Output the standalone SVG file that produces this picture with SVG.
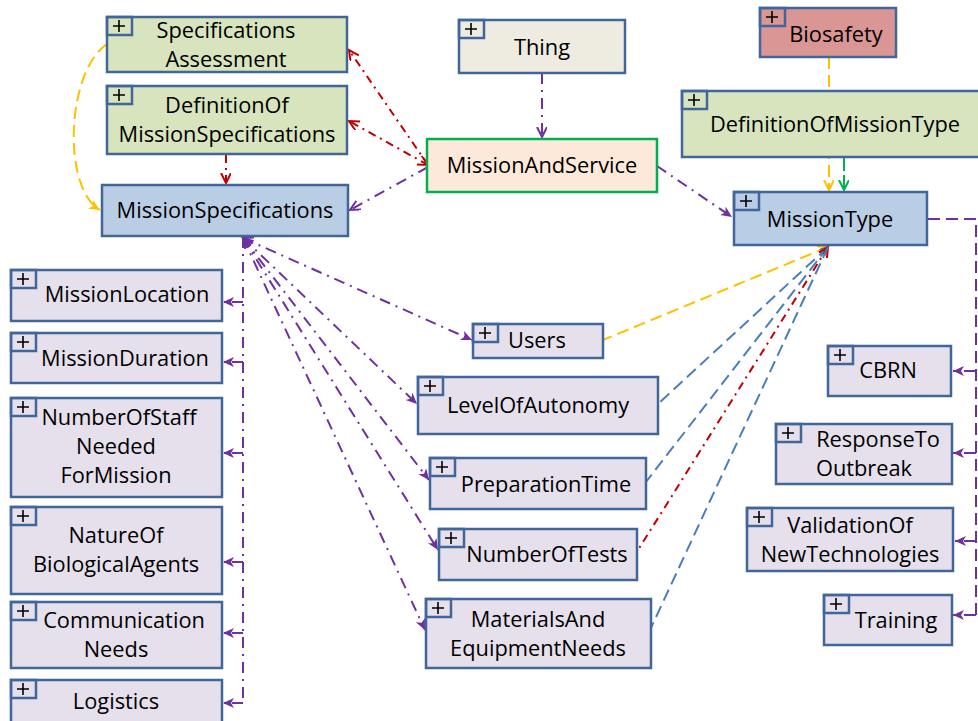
<svg xmlns="http://www.w3.org/2000/svg" width="978" height="721" viewBox="0 0 978 721">
<style>
.n{stroke:#41679a;stroke-width:2.5}
.lav{fill:#e5e0ec}.blu{fill:#b9cde5}.grn{fill:#d7e4bd}.beige{fill:#eeece1}.red{fill:#d99694}
.mas{fill:#fde9d9;stroke:#00b050;stroke-width:2.5}
.pb{fill:none;stroke:#41679a;stroke-width:2.5}
.pl{stroke:#000;stroke-width:1.6}
text{font-family:"Open Sans","Liberation Sans",sans-serif;font-size:21.8px;fill:#000;text-anchor:middle}
.c{fill:none;stroke-width:2}
.pdd{stroke:#7030a0;stroke-dasharray:11,6,2,6}
.pd{stroke:#7030a0;stroke-dasharray:12,6}
.rdd{stroke:#c00000;stroke-dasharray:8,5,2,5}
.od{stroke:#ffc000;stroke-dasharray:12,6}
.bd{stroke:#4a7ebb;stroke-dasharray:12,6}
.gd{stroke:#00b050;stroke-dasharray:14,4}
</style>
<defs>
<marker id="oP" markerUnits="userSpaceOnUse" markerWidth="14" markerHeight="14" refX="10" refY="5" orient="auto-start-reverse"><path d="M0,0 L10,5 L0,10" fill="none" stroke="#7030a0" stroke-width="2"/></marker>
<marker id="fP" markerUnits="userSpaceOnUse" markerWidth="14" markerHeight="14" refX="11" refY="5" orient="auto-start-reverse"><path d="M0,0 L11,5 L0,10 L3,5 z" fill="#7030a0"/></marker>
<marker id="oR" markerUnits="userSpaceOnUse" markerWidth="14" markerHeight="14" refX="10" refY="5" orient="auto-start-reverse"><path d="M0,0 L10,5 L0,10" fill="none" stroke="#c00000" stroke-width="2"/></marker>
<marker id="oO" markerUnits="userSpaceOnUse" markerWidth="14" markerHeight="14" refX="10" refY="5" orient="auto-start-reverse"><path d="M0,0 L10,5 L0,10" fill="none" stroke="#ffc000" stroke-width="2"/></marker>
<marker id="fO" markerUnits="userSpaceOnUse" markerWidth="14" markerHeight="14" refX="11" refY="5" orient="auto-start-reverse"><path d="M0,0 L11,5 L0,10 L3,5 z" fill="#ffc000"/></marker>
<marker id="oG" markerUnits="userSpaceOnUse" markerWidth="14" markerHeight="14" refX="10" refY="5" orient="auto-start-reverse"><path d="M0,0 L10,5 L0,10" fill="none" stroke="#00b050" stroke-width="2"/></marker>
<marker id="oB" markerUnits="userSpaceOnUse" markerWidth="14" markerHeight="14" refX="8" refY="4" orient="auto-start-reverse"><path d="M0,0 L8,4 L0,8" fill="none" stroke="#4a7ebb" stroke-width="1.6"/></marker>
</defs>
<g id="connectors">
<path class="c pdd" d="M542,73 L542,137" marker-end="url(#oP)"/>
<path class="c rdd" d="M428,165 L349,50" marker-end="url(#oR)"/>
<path class="c rdd" d="M428,165 L349,121" marker-end="url(#oR)" marker-start="url(#oR)"/>
<path class="c pdd" d="M428,167 L350,210" marker-end="url(#oP)"/>
<path class="c rdd" d="M226,155 L226,183" marker-end="url(#oR)"/>
<path class="c od" d="M107,44 C66,72 62,188 100,210" marker-end="url(#fO)"/>
<path class="c pdd" d="M657,166 L732,217" marker-end="url(#fP)"/>
<path class="c od" d="M829,57 L829,190" marker-end="url(#oO)"/>
<path class="c gd" d="M844,157 L844,190" marker-end="url(#oG)"/>
<path class="c pd" d="M928,219 L976,219 L976,615"/>
<path class="c pd" d="M976,371 L953,371" marker-end="url(#fP)"/>
<path class="c pd" d="M976,453 L953,453" marker-end="url(#fP)"/>
<path class="c pd" d="M976,541 L955,541" marker-end="url(#fP)"/>
<path class="c pd" d="M976,615 L953,615" marker-end="url(#fP)"/>
<path class="c pdd" d="M243,237 L243,703"/>
<path class="c pdd" d="M243,302 L223,302" marker-end="url(#fP)"/>
<path class="c pdd" d="M243,362 L223,362" marker-end="url(#fP)"/>
<path class="c pdd" d="M243,453 L223,453" marker-end="url(#fP)"/>
<path class="c pdd" d="M243,562 L223,562" marker-end="url(#fP)"/>
<path class="c pdd" d="M243,633 L223,633" marker-end="url(#fP)"/>
<path class="c pdd" d="M243,703 L223,703" marker-end="url(#fP)"/>
<path class="c pdd" d="M243,238 L472,340" marker-end="url(#fP)" marker-start="url(#oP)"/>
<path class="c pdd" d="M243,238 L417,404" marker-end="url(#fP)" marker-start="url(#oP)"/>
<path class="c pdd" d="M243,238 L429,480" marker-end="url(#fP)" marker-start="url(#oP)"/>
<path class="c pdd" d="M243,238 L438,550" marker-end="url(#fP)" marker-start="url(#oP)"/>
<path class="c pdd" d="M243,238 L425,630" marker-end="url(#fP)"/>
<path class="c od" d="M828,247 L603,340" marker-start="url(#oO)"/>
<path class="c bd" d="M828,247 L659,403" marker-start="url(#oB)"/>
<path class="c bd" d="M828,247 L646,482"/>
<path class="c rdd" d="M828,247 L638,550" marker-start="url(#oR)"/>
<path class="c bd" d="M828,247 L650,630"/>
</g>
<g id="SpecificationsAssessment"><rect class="n grn" x="107" y="17" width="240" height="55"/><rect class="pb" x="107" y="17" width="25" height="18"/><path class="pl" d="M113,26 H125 M119,20 V32"/><text x="226" y="38">Specifications</text><text x="226" y="67">Assessment</text></g>
<g id="DefinitionOfMissionSpecifications"><rect class="n grn" x="107" y="86" width="240" height="68"/><rect class="pb" x="107" y="86" width="25" height="18"/><path class="pl" d="M113,95 H125 M119,89 V101"/><text x="227" y="113">DefinitionOf</text><text x="227" y="142">MissionSpecifications</text></g>
<g id="MissionSpecifications"><rect class="n blu" x="102" y="185" width="246" height="51"/><text x="225" y="218">MissionSpecifications</text></g>
<g id="Thing"><rect class="n beige" x="459" y="20" width="166" height="53"/><rect class="pb" x="459" y="20" width="25" height="18"/><path class="pl" d="M465,29 H477 M471,23 V35"/><text x="542" y="55">Thing</text></g>
<g id="MissionAndService"><rect class="mas" x="427" y="139" width="230" height="53"/><text x="542" y="173">MissionAndService</text></g>
<g id="Biosafety"><rect class="n red" x="760" y="8" width="136" height="49"/><rect class="pb" x="760" y="8" width="25" height="18"/><path class="pl" d="M766,17 H778 M772,11 V23"/><text x="836" y="42">Biosafety</text></g>
<g id="DefinitionOfMissionType"><rect class="n grn" x="682" y="91" width="300" height="66"/><rect class="pb" x="682" y="91" width="25" height="18"/><path class="pl" d="M688,100 H700 M694,94 V106"/><text x="835" y="132">DefinitionOfMissionType</text></g>
<g id="MissionType"><rect class="n blu" x="734" y="192" width="193" height="53"/><rect class="pb" x="734" y="192" width="25" height="18"/><path class="pl" d="M740,201 H752 M746,195 V207"/><text x="830" y="227">MissionType</text></g>
<g id="MissionLocation"><rect class="n lav" x="11" y="270" width="211" height="51"/><rect class="pb" x="11" y="270" width="25" height="18"/><path class="pl" d="M17,279 H29 M23,273 V285"/><text x="127" y="302">MissionLocation</text></g>
<g id="MissionDuration"><rect class="n lav" x="11" y="333" width="211" height="50"/><rect class="pb" x="11" y="333" width="25" height="18"/><path class="pl" d="M17,342 H29 M23,336 V348"/><text x="125" y="366">MissionDuration</text></g>
<g id="NumberOfStaffNeededForMission"><rect class="n lav" x="11" y="398" width="211" height="99"/><rect class="pb" x="11" y="398" width="25" height="18"/><path class="pl" d="M17,407 H29 M23,401 V413"/><text x="119" y="425">NumberOfStaff</text><text x="116" y="454">Needed</text><text x="116" y="483">ForMission</text></g>
<g id="NatureOfBiologicalAgents"><rect class="n lav" x="11" y="507" width="211" height="87"/><rect class="pb" x="11" y="507" width="25" height="18"/><path class="pl" d="M17,516 H29 M23,510 V522"/><text x="116" y="543">NatureOf</text><text x="116" y="572">BiologicalAgents</text></g>
<g id="CommunicationNeeds"><rect class="n lav" x="11" y="602" width="211" height="66"/><rect class="pb" x="11" y="602" width="25" height="18"/><path class="pl" d="M17,611 H29 M23,605 V617"/><text x="124" y="628">Communication</text><text x="116" y="657">Needs</text></g>
<g id="Logistics"><rect class="n lav" x="11" y="680" width="211" height="55"/><rect class="pb" x="11" y="680" width="25" height="18"/><path class="pl" d="M17,689 H29 M23,683 V695"/><text x="116" y="709">Logistics</text></g>
<g id="Users"><rect class="n lav" x="473" y="324" width="130" height="34"/><rect class="pb" x="473" y="324" width="25" height="18"/><path class="pl" d="M479,333 H491 M485,327 V339"/><text x="537" y="348">Users</text></g>
<g id="LevelOfAutonomy"><rect class="n lav" x="418" y="377" width="240" height="57"/><rect class="pb" x="418" y="377" width="25" height="18"/><path class="pl" d="M424,386 H436 M430,380 V392"/><text x="538" y="413">LevelOfAutonomy</text></g>
<g id="PreparationTime"><rect class="n lav" x="430" y="458" width="216" height="51"/><rect class="pb" x="430" y="458" width="25" height="18"/><path class="pl" d="M436,467 H448 M442,461 V473"/><text x="546" y="492">PreparationTime</text></g>
<g id="NumberOfTests"><rect class="n lav" x="439" y="529" width="198" height="51"/><rect class="pb" x="439" y="529" width="25" height="18"/><path class="pl" d="M445,538 H457 M451,532 V544"/><text x="547" y="562">NumberOfTests</text></g>
<g id="MaterialsAndEquipmentNeeds"><rect class="n lav" x="426" y="599" width="225" height="69"/><rect class="pb" x="426" y="599" width="25" height="18"/><path class="pl" d="M432,608 H444 M438,602 V614"/><text x="538" y="627">MaterialsAnd</text><text x="538" y="656">EquipmentNeeds</text></g>
<g id="CBRN"><rect class="n lav" x="828" y="346" width="123" height="50"/><rect class="pb" x="828" y="346" width="25" height="18"/><path class="pl" d="M834,355 H846 M840,349 V361"/><text x="888" y="378">CBRN</text></g>
<g id="ResponseToOutbreak"><rect class="n lav" x="776" y="424" width="176" height="60"/><rect class="pb" x="776" y="424" width="25" height="18"/><path class="pl" d="M782,433 H794 M788,427 V439"/><text x="878" y="447">ResponseTo</text><text x="864" y="476">Outbreak</text></g>
<g id="ValidationOfNewTechnologies"><rect class="n lav" x="747" y="508" width="206" height="63"/><rect class="pb" x="747" y="508" width="25" height="18"/><path class="pl" d="M753,517 H765 M759,511 V523"/><text x="850" y="533">ValidationOf</text><text x="850" y="562">NewTechnologies</text></g>
<g id="Training"><rect class="n lav" x="824" y="595" width="128" height="50"/><rect class="pb" x="824" y="595" width="25" height="18"/><path class="pl" d="M830,604 H842 M836,598 V610"/><text x="896" y="628">Training</text></g>
</svg>
